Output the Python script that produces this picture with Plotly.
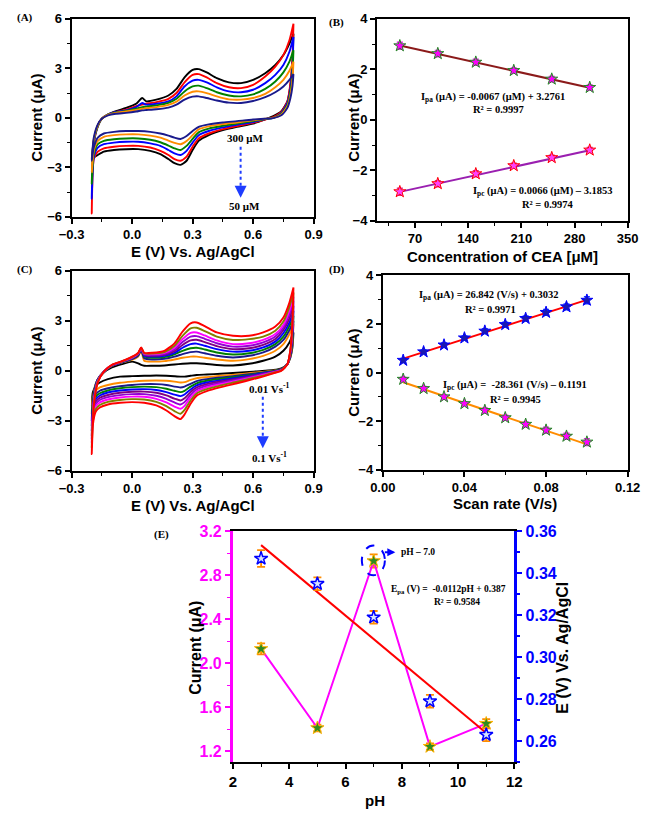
import plotly.graph_objects as go

# ---------------- Panel A : CV at different CEA concentrations ----------------
E_fwd_A = [-0.20, -0.19, -0.17, -0.15, -0.12, -0.08, -0.03, 0.02, 0.05, 0.07, 0.12, 0.18, 0.22,
           0.26, 0.30, 0.33, 0.37, 0.42, 0.48, 0.54, 0.60, 0.66, 0.71, 0.75, 0.78, 0.80]
E_rev_A = [0.80, 0.795, 0.785, 0.77, 0.74, 0.70, 0.66, 0.60, 0.52, 0.45, 0.38, 0.33, 0.30,
           0.27, 0.24, 0.21, 0.18, 0.14, 0.09, 0.03, -0.03, -0.09, -0.14, -0.17, -0.19, -0.20]
A_colors = ["black", "#FF0000", "#0000FF", "#008000", "#FF8C00", "#1A1A8C"]
A_fwd = [
    [-2.6, -1.4, -0.45, -0.05, 0.2, 0.4, 0.6, 0.85, 1.2, 1.0, 1.1, 1.35, 1.75, 2.45, 2.9, 2.95, 2.75, 2.4, 2.15, 2.1, 2.3, 2.7, 3.2, 3.8, 4.5, 5.1],
    [-5.8, -1.6, -0.5, -0.05, 0.2, 0.35, 0.5, 0.7, 0.8, 0.85, 0.95, 1.15, 1.5, 2.15, 2.6, 2.65, 2.45, 2.1, 1.85, 1.8, 2.0, 2.5, 3.1, 3.8, 4.7, 5.7],
    [-4.9, -1.5, -0.5, -0.05, 0.2, 0.35, 0.45, 0.65, 0.9, 0.8, 0.85, 1.0, 1.3, 1.9, 2.25, 2.3, 2.15, 1.85, 1.6, 1.55, 1.7, 2.1, 2.6, 3.2, 4.0, 4.9],
    [-4.0, -1.4, -0.5, -0.05, 0.2, 0.32, 0.42, 0.55, 0.65, 0.68, 0.75, 0.9, 1.15, 1.6, 1.9, 1.95, 1.8, 1.55, 1.35, 1.3, 1.42, 1.75, 2.2, 2.75, 3.4, 4.1],
    [-3.3, -1.3, -0.45, -0.05, 0.18, 0.3, 0.38, 0.48, 0.55, 0.58, 0.65, 0.78, 0.98, 1.35, 1.58, 1.6, 1.5, 1.3, 1.12, 1.1, 1.2, 1.45, 1.85, 2.3, 2.85, 3.4],
    [-2.6, -1.2, -0.4, -0.05, 0.15, 0.25, 0.3, 0.38, 0.45, 0.47, 0.52, 0.62, 0.8, 1.1, 1.28, 1.3, 1.2, 1.05, 0.92, 0.9, 1.02, 1.25, 1.55, 1.9, 2.3, 2.65],
]
A_rev = [
    [5.1, 3.4, 2.0, 1.0, 0.4, 0.1, -0.1, -0.35, -0.55, -0.75, -1.05, -1.4, -1.95, -2.6, -2.85, -2.75, -2.5, -2.2, -2.0, -1.9, -1.9, -1.95, -2.05, -2.25, -2.4, -2.6],
    [5.7, 3.6, 2.1, 1.0, 0.35, 0.05, -0.1, -0.3, -0.5, -0.68, -0.95, -1.25, -1.75, -2.35, -2.6, -2.5, -2.25, -2.0, -1.8, -1.7, -1.7, -1.75, -1.85, -2.05, -2.5, -5.8],
    [4.9, 3.1, 1.8, 0.9, 0.3, 0.0, -0.08, -0.25, -0.42, -0.58, -0.8, -1.05, -1.5, -2.0, -2.25, -2.15, -1.95, -1.7, -1.55, -1.45, -1.45, -1.5, -1.6, -1.8, -2.4, -4.9],
    [4.1, 2.7, 1.6, 0.8, 0.25, 0.0, -0.07, -0.2, -0.35, -0.48, -0.65, -0.88, -1.28, -1.7, -1.95, -1.85, -1.68, -1.48, -1.33, -1.25, -1.25, -1.3, -1.4, -1.6, -2.2, -4.0],
    [3.4, 2.3, 1.4, 0.7, 0.2, 0.0, -0.05, -0.15, -0.28, -0.38, -0.52, -0.7, -1.05, -1.4, -1.6, -1.52, -1.38, -1.2, -1.08, -1.0, -1.0, -1.05, -1.15, -1.4, -2.0, -3.3],
    [2.65, 1.9, 1.2, 0.6, 0.15, -0.02, -0.05, -0.1, -0.2, -0.28, -0.4, -0.55, -0.8, -1.1, -1.28, -1.2, -1.08, -0.95, -0.85, -0.8, -0.8, -0.85, -0.95, -1.2, -1.8, -2.6],
]

# ---------------- Panel B : peak current vs concentration ----------------
conc = [50, 100, 150, 200, 250, 300]
Ipa_conc = [2.93, 2.62, 2.28, 1.95, 1.61, 1.28]
Ipc_conc = [-2.85, -2.53, -2.14, -1.82, -1.50, -1.20]
err_conc = [0.14, 0.12, 0.12, 0.10, 0.10, 0.10]
fitB_pa = (-0.0067, 3.2761)
fitB_pc = (0.0066, -3.1853)

# ---------------- Panel C : CV at different scan rates ----------------
E_fwd_C = [-0.20, -0.19, -0.17, -0.14, -0.10, -0.05, 0.00, 0.03, 0.045, 0.06, 0.10, 0.16, 0.21,
           0.25, 0.29, 0.32, 0.36, 0.42, 0.50, 0.58, 0.65, 0.71, 0.75, 0.78, 0.80]
E_rev_C = [0.80, 0.795, 0.785, 0.77, 0.74, 0.70, 0.66, 0.60, 0.52, 0.44, 0.37, 0.32, 0.29,
           0.26, 0.24, 0.21, 0.17, 0.12, 0.06, 0.00, -0.06, -0.12, -0.16, -0.18, -0.195, -0.20]
C_colors = ["black", "#FF8C00", "#1A1A8C", "#008000", "#0000FF", "#800080", "#9400D3",
            "#FF00FF", "#808000", "#FF0000"]
C_fwd = [
    [-2.1, -1.2, -0.5, -0.1, 0.2, 0.4, 0.55, 0.45, 0.35, 0.3, 0.3, 0.32, 0.38, 0.42, 0.45, 0.45, 0.42, 0.35, 0.32, 0.42, 0.6, 0.85, 1.2, 1.7, 2.3],
    [-2.6, -1.3, -0.5, -0.05, 0.3, 0.5, 0.65, 0.85, 1.2, 0.6, 0.55, 0.58, 0.68, 0.78, 0.85, 0.85, 0.78, 0.68, 0.6, 0.7, 0.9, 1.2, 1.6, 2.2, 2.8],
    [-3.0, -1.4, -0.5, -0.05, 0.3, 0.5, 0.7, 0.9, 1.25, 0.75, 0.68, 0.72, 0.85, 1.0, 1.12, 1.15, 1.05, 0.9, 0.8, 0.9, 1.1, 1.45, 1.85, 2.45, 3.0],
    [-3.3, -1.5, -0.55, -0.05, 0.3, 0.52, 0.72, 0.95, 1.28, 0.85, 0.78, 0.82, 0.98, 1.2, 1.35, 1.38, 1.28, 1.1, 0.98, 1.05, 1.25, 1.6, 2.05, 2.7, 3.3],
    [-3.6, -1.6, -0.55, -0.05, 0.32, 0.53, 0.74, 0.98, 1.3, 0.9, 0.85, 0.9, 1.08, 1.38, 1.6, 1.63, 1.5, 1.3, 1.15, 1.2, 1.4, 1.75, 2.25, 2.9, 3.6],
    [-3.9, -1.7, -0.6, -0.05, 0.32, 0.54, 0.76, 1.0, 1.32, 0.95, 0.9, 0.96, 1.18, 1.55, 1.82, 1.86, 1.72, 1.48, 1.3, 1.35, 1.55, 1.9, 2.45, 3.15, 3.9],
    [-4.1, -1.8, -0.6, -0.05, 0.33, 0.55, 0.78, 1.02, 1.34, 1.0, 0.95, 1.02, 1.28, 1.72, 2.05, 2.08, 1.92, 1.65, 1.45, 1.5, 1.7, 2.05, 2.6, 3.4, 4.2],
    [-4.3, -1.9, -0.62, -0.05, 0.34, 0.56, 0.8, 1.04, 1.36, 1.02, 1.0, 1.08, 1.38, 1.9, 2.28, 2.3, 2.12, 1.82, 1.6, 1.65, 1.85, 2.2, 2.75, 3.6, 4.45],
    [-4.6, -2.0, -0.65, -0.05, 0.35, 0.57, 0.82, 1.06, 1.38, 1.05, 1.03, 1.12, 1.5, 2.1, 2.55, 2.58, 2.38, 2.05, 1.85, 1.9, 2.05, 2.4, 2.95, 3.85, 4.7],
    [-5.0, -2.1, -0.7, -0.05, 0.36, 0.58, 0.85, 1.08, 1.4, 1.08, 1.08, 1.2, 1.65, 2.35, 2.85, 2.9, 2.68, 2.3, 2.1, 2.1, 2.3, 2.65, 3.2, 4.1, 5.0],
]
C_rev = [
    [2.3, 1.4, 0.8, 0.4, 0.15, 0.05, 0.0, -0.05, -0.12, -0.18, -0.22, -0.25, -0.3, -0.35, -0.35, -0.33, -0.3, -0.28, -0.3, -0.32, -0.35, -0.5, -0.7, -0.9, -1.3, -2.1],
    [2.8, 1.7, 0.9, 0.4, 0.1, 0.0, -0.05, -0.12, -0.22, -0.3, -0.38, -0.45, -0.55, -0.68, -0.7, -0.65, -0.6, -0.58, -0.6, -0.65, -0.72, -0.85, -1.0, -1.2, -1.6, -2.6],
    [3.0, 1.85, 0.95, 0.4, 0.1, -0.02, -0.08, -0.18, -0.3, -0.4, -0.5, -0.62, -0.78, -0.95, -1.0, -0.95, -0.85, -0.8, -0.8, -0.85, -0.92, -1.05, -1.2, -1.4, -1.9, -3.0],
    [3.3, 2.0, 1.0, 0.4, 0.08, -0.03, -0.1, -0.22, -0.36, -0.48, -0.6, -0.75, -0.95, -1.2, -1.28, -1.2, -1.08, -0.98, -0.95, -0.98, -1.05, -1.18, -1.35, -1.55, -2.1, -3.3],
    [3.6, 2.2, 1.05, 0.4, 0.06, -0.05, -0.12, -0.26, -0.42, -0.56, -0.7, -0.88, -1.12, -1.42, -1.52, -1.43, -1.28, -1.15, -1.1, -1.12, -1.18, -1.3, -1.48, -1.7, -2.3, -3.6],
    [3.9, 2.35, 1.1, 0.4, 0.05, -0.06, -0.15, -0.3, -0.48, -0.64, -0.8, -1.0, -1.28, -1.65, -1.78, -1.67, -1.48, -1.32, -1.25, -1.26, -1.32, -1.45, -1.62, -1.85, -2.5, -3.9],
    [4.2, 2.5, 1.15, 0.4, 0.04, -0.08, -0.18, -0.34, -0.54, -0.72, -0.9, -1.12, -1.44, -1.88, -2.02, -1.9, -1.68, -1.5, -1.4, -1.4, -1.46, -1.58, -1.75, -2.0, -2.7, -4.1],
    [4.45, 2.65, 1.2, 0.4, 0.03, -0.1, -0.22, -0.38, -0.6, -0.8, -1.0, -1.24, -1.6, -2.1, -2.28, -2.15, -1.9, -1.68, -1.56, -1.55, -1.6, -1.72, -1.9, -2.15, -2.9, -4.3],
    [4.7, 2.8, 1.25, 0.4, 0.02, -0.12, -0.26, -0.43, -0.66, -0.88, -1.1, -1.36, -1.78, -2.35, -2.58, -2.42, -2.12, -1.86, -1.72, -1.7, -1.75, -1.86, -2.05, -2.3, -3.1, -4.6],
    [5.0, 3.0, 1.3, 0.4, 0.0, -0.15, -0.3, -0.5, -0.75, -0.98, -1.22, -1.5, -1.98, -2.62, -2.9, -2.72, -2.38, -2.08, -1.92, -1.88, -1.92, -2.02, -2.2, -2.45, -3.3, -5.0],
]

# ---------------- Panel D : peak current vs scan rate ----------------
scan = [0.01, 0.02, 0.03, 0.04, 0.05, 0.06, 0.07, 0.08, 0.09, 0.10]
Ipa_scan = [0.50, 0.85, 1.13, 1.42, 1.70, 1.97, 2.22, 2.47, 2.70, 2.97]
Ipc_scan = [-0.28, -0.66, -1.00, -1.28, -1.56, -1.86, -2.13, -2.37, -2.62, -2.86]
err_scan = [0.08, 0.08, 0.08, 0.08, 0.1, 0.1, 0.1, 0.12, 0.12, 0.14]
fitD_pa = (26.842, 0.3032)
fitD_pc = (-28.361, -0.1191)

# ---------------- Panel E : effect of pH ----------------
pH = [3, 5, 7, 9, 11]
I_pH = [2.13, 1.41, 2.93, 1.24, 1.45]
I_pH_err = [0.05, 0.03, 0.06, 0.03, 0.04]
E_pH = [0.347, 0.335, 0.319, 0.279, 0.263]
E_pH_err = [0.004, 0.003, 0.003, 0.003, 0.003]
fitE = (-0.0112, 0.387)

BOLD_SANS = dict(family="Liberation Sans, Arial, sans-serif", weight="bold")
SERIF = "Liberation Serif, Times New Roman, serif"

fig = go.Figure()


def cv(fig, Ef, Er, fwd, rev, colors, xa, ya):
    for f, r, c in zip(fwd, rev, colors):
        fig.add_trace(go.Scatter(x=Ef + Er, y=f + r, mode="lines",
                                 line=dict(color=c, width=1.9, shape="spline", smoothing=0.6),
                                 xaxis=xa, yaxis=ya, showlegend=False, hoverinfo="skip"))


cv(fig, E_fwd_A, E_rev_A, A_fwd, A_rev, A_colors, "x", "y")
cv(fig, E_fwd_C, E_rev_C, C_fwd, C_rev, C_colors, "x3", "y3")


def fit_line(x, coef):
    return [x[0], x[-1]], [coef[0] * x[0] + coef[1], coef[0] * x[-1] + coef[1]]


MS = 9

# Panel B
fx, fy = fit_line(conc, fitB_pa)
fig.add_trace(go.Scatter(x=fx, y=fy, mode="lines", line=dict(color="#8B1A1A", width=2),
                         xaxis="x2", yaxis="y2", showlegend=False))
fx, fy = fit_line(conc, fitB_pc)
fig.add_trace(go.Scatter(x=fx, y=fy, mode="lines", line=dict(color="#9A1FB0", width=2),
                         xaxis="x2", yaxis="y2", showlegend=False))
fig.add_trace(go.Scatter(x=conc, y=Ipa_conc, mode="markers",
                         error_y=dict(array=err_conc, color="#E020E0", thickness=1.5, width=3),
                         marker=dict(symbol="star", size=MS, color="#FF00FF", line=dict(color="#228B22", width=1)),
                         xaxis="x2", yaxis="y2", showlegend=False))
fig.add_trace(go.Scatter(x=conc, y=Ipc_conc, mode="markers",
                         error_y=dict(array=err_conc, color="#E0208C", thickness=1.5, width=3),
                         marker=dict(symbol="star", size=MS, color="#FF40FF", line=dict(color="#FF0000", width=1)),
                         xaxis="x2", yaxis="y2", showlegend=False))

# Panel D
fx, fy = fit_line(scan, fitD_pa)
fig.add_trace(go.Scatter(x=fx, y=fy, mode="lines", line=dict(color="#FF0000", width=2),
                         xaxis="x4", yaxis="y4", showlegend=False))
fx, fy = fit_line(scan, fitD_pc)
fig.add_trace(go.Scatter(x=fx, y=fy, mode="lines", line=dict(color="#FF8C00", width=2),
                         xaxis="x4", yaxis="y4", showlegend=False))
fig.add_trace(go.Scatter(x=scan, y=Ipa_scan, mode="markers",
                         error_y=dict(array=err_scan, color="#1E3CFF", thickness=1.5, width=3),
                         marker=dict(symbol="star", size=MS, color="#1A1AB0", line=dict(color="#0000FF", width=1)),
                         xaxis="x4", yaxis="y4", showlegend=False))
fig.add_trace(go.Scatter(x=scan, y=Ipc_scan, mode="markers",
                         error_y=dict(array=err_scan, color="#E020E0", thickness=1.5, width=3),
                         marker=dict(symbol="star", size=MS, color="#FF00FF", line=dict(color="#228B22", width=1)),
                         xaxis="x4", yaxis="y4", showlegend=False))

# Panel E
fx, fy = fit_line(pH, fitE)
fig.add_trace(go.Scatter(x=fx, y=fy, mode="lines", line=dict(color="#FF0000", width=2),
                         xaxis="x5", yaxis="y6", showlegend=False))
fig.add_trace(go.Scatter(x=pH, y=I_pH, mode="lines+markers", line=dict(color="#FF00FF", width=2),
                         error_y=dict(array=I_pH_err, color="#FF8C00", thickness=1.8, width=4),
                         marker=dict(symbol="star", size=10, color="#2E8B22", line=dict(color="#FFB000", width=1)),
                         xaxis="x5", yaxis="y5", showlegend=False))
fig.add_trace(go.Scatter(x=pH, y=E_pH, mode="markers",
                         error_y=dict(array=E_pH_err, color="#FF8C00", thickness=1.8, width=4),
                         marker=dict(symbol="star", size=10, color="#D8E4FF", line=dict(color="#0000FF", width=1.5)),
                         xaxis="x5", yaxis="y6", showlegend=False))

tickfont = dict(size=13, color="black", **BOLD_SANS)


def ax(domain, rng, dtick, minor, fmt=None, anchor=None, color="black", tf=None, **kw):
    d = dict(domain=domain, range=rng, dtick=dtick, tick0=0, showgrid=False, zeroline=False,
             showline=True, linewidth=2, linecolor=color, mirror=True, ticks="outside",
             ticklen=5, tickwidth=1.5, tickcolor=color, tickfont=tf or tickfont,
             minor=dict(dtick=minor, ticks="outside", ticklen=3, tickwidth=1.2, tickcolor=color, tick0=0),
             anchor=anchor)
    if fmt:
        d["tickformat"] = fmt
    d.update(kw)
    return d


xA = [61 / 658, 313 / 658]
xB = [379 / 658, 640 / 658]
xD = [385 / 658, 640 / 658]
xE = [229 / 658, 522 / 658]
yA = [1 - 213 / 821, 1 - 11 / 821]
yB = [1 - 217 / 821, 1 - 11 / 821]
yC = [1 - 472 / 821, 1 - 268 / 821]
yD = [1 - 471 / 821, 1 - 272.5 / 821]
yE = [1 - 769 / 821, 1 - 533.7 / 821]

tfE_x = dict(size=15, color="black", **BOLD_SANS)
tfE_l = dict(size=16, color="#FF00FF", **BOLD_SANS)
tfE_r = dict(size=16, color="#0000FF", **BOLD_SANS)

fig.update_layout(
    width=658, height=821, margin=dict(l=0, r=0, t=0, b=0),
    paper_bgcolor="white", plot_bgcolor="white", showlegend=False,
    xaxis=ax(xA, [-0.3, 0.9], 0.3, 0.15, ".1f", "y", tick0=-0.3),
    yaxis=ax(yA, [-6, 6], 3, 1.5, None, "x"),
    xaxis2=ax(xB, [20, 350], 70, 35, None, "y2"),
    yaxis2=ax(yB, [-4, 4], 2, 1, None, "x2"),
    xaxis3=ax(xA, [-0.3, 0.9], 0.3, 0.15, ".1f", "y3"),
    yaxis3=ax(yC, [-6, 6], 3, 1.5, None, "x3"),
    xaxis4=ax(xD, [0, 0.12], 0.04, 0.02, ".2f", "y4"),
    yaxis4=ax(yD, [-4, 4], 2, 1, None, "x4"),
    xaxis5=ax(xE, [2, 12], 2, 1, None, "y5", tf=tfE_x),
    yaxis5=ax(yE, [1.1, 3.2], 0.4, 0.2, ".1f", "x5", color="#FF00FF", tf=tfE_l,
              mirror=False, linewidth=3, tick0=1.2),
    yaxis6=dict(domain=yE, range=[0.25, 0.36], overlaying="y5", side="right", anchor="x5",
                dtick=0.02, tick0=0, tickformat=".2f", showgrid=False, zeroline=False,
                showline=True, linewidth=3, linecolor="#0000FF", ticks="outside", ticklen=5,
                tickwidth=1.5, tickcolor="#0000FF", tickfont=tfE_r,
                minor=dict(dtick=0.01, ticks="outside", ticklen=3, tickcolor="#0000FF")),
)

ann = []


def P(px, py):
    return px / 658, 1 - py / 821


def text(px, py, t, size=15, font=None, angle=0, xanchor="center", color="black"):
    x, y = P(px, py)
    f = font or dict(size=size, color=color, **BOLD_SANS)
    ann.append(dict(x=x, y=y, xref="paper", yref="paper", text=t, showarrow=False,
                    font=f, textangle=angle, xanchor=xanchor, yanchor="middle"))


def serif(px, py, t, size=11, xanchor="center"):
    text(px, py, t, font=dict(family=SERIF, size=size, color="black", weight="bold"), xanchor=xanchor)


# axis titles
text(187, 248, "E (V) Vs. Ag/AgCl")
text(25, 112, "Current (μA)", angle=-90)
text(510, 253, "Concentration of CEA [μM]")
text(355, 112, "Current (μA)", angle=-90)
text(187, 507, "E (V) Vs. Ag/AgCl")
text(25, 370, "Current (μA)", angle=-90)
text(512, 505, "Scan rate (V/s)")
text(355, 372, "Current (μA)", angle=-90)
text(377, 808, "pH")
text(190, 652, "Current (μA)", angle=-90, size=16)
text(572, 652, "E (V) Vs. Ag/AgCl", angle=-90, size=16)

# panel labels
serif(13, 10, "(A)")
serif(337, 15, "(B)")
serif(12, 267, "(C)")
serif(337, 267, "(D)")
serif(155, 537, "(E)")

# equations
serif(500, 91, "I<sub>pa</sub> (μA) = -0.0067 (μM) + 3.2761", 10.5)
serif(505, 104, "R² = 0.9997", 10.5)
serif(552, 187, "I<sub>pc</sub> (μA) = 0.0066 (μM) – 3.1853", 10.5)
serif(557, 200, "R² = 0.9974", 10.5)
serif(495, 293, "I<sub>pa</sub> (μA) = 26.842 (V/s) + 0.3032", 10.5)
serif(497, 307, "R² = 0.9971", 10.5)
serif(523, 385, "I<sub>pc</sub> (μA) =  -28.361 (V/s) – 0.1191", 10.5)
serif(523, 399, "R² = 0.9945", 10.5)
serif(453, 593, "E<sub>pa</sub> (V) =  -0.0112pH + 0.387", 9.5)
serif(462, 606, "R² = 0.9584", 9.5)

serif(242, 133, "300 μM", 11)
serif(241, 202, "50 μM", 11)
serif(267, 388, "0.01 Vs<sup>-1</sup>", 11)
serif(267, 458, "0.1 Vs<sup>-1</sup>", 11)
serif(402, 555, "pH – 7.0", 9.5, xanchor="left")

# arrow heads
ann.append(dict(x=0.538, y=-4.85, xref="x", yref="y", ax=0, ay=-8, text="", showarrow=True,
                arrowhead=2, arrowsize=1.2, arrowwidth=2, arrowcolor="#1E3CFF"))
ann.append(dict(x=0.648, y=-4.65, xref="x3", yref="y3", ax=0, ay=-8, text="", showarrow=True,
                arrowhead=2, arrowsize=1.2, arrowwidth=2, arrowcolor="#1E3CFF"))
ann.append(dict(x=7.77, y=3.01, xref="x5", yref="y5", ax=-12, ay=0, text="", showarrow=True,
                arrowhead=2, arrowsize=0.8, arrowwidth=2, arrowcolor="#0000FF"))
fig.update_layout(annotations=ann)

fig.update_layout(shapes=[
    dict(type="line", xref="x", yref="y", x0=0.538, x1=0.538, y0=-1.75, y1=-4.6,
         line=dict(color="#1E3CFF", width=2, dash="dot")),
    dict(type="line", xref="x3", yref="y3", x0=0.648, x1=0.648, y0=-1.55, y1=-4.4,
         line=dict(color="#1E3CFF", width=2, dash="dot")),
    dict(type="circle", xref="x5", yref="y5", x0=6.58, x1=7.4, y0=2.80, y1=3.07,
         line=dict(color="#0000FF", width=2, dash="dash")),
])

fig.write_html("out.html")
